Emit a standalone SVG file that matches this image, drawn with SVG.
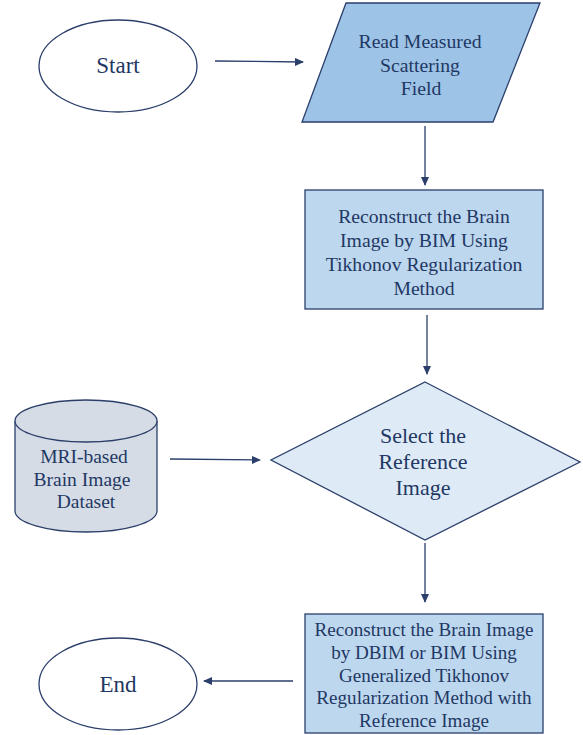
<svg xmlns="http://www.w3.org/2000/svg" width="583" height="735" viewBox="0 0 583 735">
<style>
.sh{stroke:#2b3f6a;stroke-width:1.3}
.t{font-family:"Liberation Serif","Times New Roman",serif;fill:#1f3864;text-anchor:middle}
.c{stroke:#2b3f6a;stroke-width:1.3;fill:none;marker-end:url(#ah)}
</style>
<defs>
<marker id="ah" markerWidth="10" markerHeight="8" refX="8" refY="4" orient="auto" markerUnits="userSpaceOnUse">
<path d="M0,0 L9,4 L0,8 Z" fill="#2b3f6a"/>
</marker>
</defs>
<rect width="583" height="735" fill="#fff"/>
<g id="start">
<ellipse class="sh" cx="118" cy="66" rx="79" ry="46" fill="#fff"/>
<text class="t" x="118" y="73" font-size="23">Start</text>
</g>
<g id="read">
<polygon class="sh" points="346,3 540,3 493,122 302,122" fill="#9dc3e6"/>
<text class="t" font-size="19.7"><tspan x="420" y="48">Read Measured</tspan><tspan x="420" y="72">Scattering</tspan><tspan x="421" y="95">Field</tspan></text>
</g>
<g id="bim">
<rect class="sh" x="305" y="190" width="238" height="119" fill="#bdd7ee"/>
<text class="t" font-size="19.7"><tspan x="424" y="223">Reconstruct the Brain</tspan><tspan x="424" y="247">Image by BIM Using</tspan><tspan x="424" y="271">Tikhonov Regularization</tspan><tspan x="424" y="295">Method</tspan></text>
</g>
<g id="select">
<polygon class="sh" points="425,382 580,462 425,540 271,460" fill="#deebf7"/>
<text class="t" font-size="22"><tspan x="423" y="443">Select the</tspan><tspan x="423" y="469">Reference</tspan><tspan x="423" y="495">Image</tspan></text>
</g>
<g id="dataset">
<path class="sh" d="M15,421 L15,511 A71,21 0 0 0 157,511 L157,421" fill="#d6dce5"/>
<ellipse class="sh" cx="86" cy="421" rx="71" ry="21" fill="#d6dce5"/>
<text class="t" font-size="19.5"><tspan x="84" y="463">MRI-based</tspan><tspan x="82" y="486">Brain Image</tspan><tspan x="86" y="508">Dataset</tspan></text>
</g>
<g id="dbim">
<rect class="sh" x="305" y="614" width="238" height="119" fill="#bdd7ee"/>
<text class="t" font-size="19.1"><tspan x="424" y="636">Reconstruct the Brain Image</tspan><tspan x="424" y="659">by DBIM or BIM Using</tspan><tspan x="424" y="682">Generalized Tikhonov</tspan><tspan x="424" y="704">Regularization Method with</tspan><tspan x="424" y="727">Reference Image</tspan></text>
</g>
<g id="end">
<ellipse class="sh" cx="118" cy="684" rx="79" ry="46" fill="#fff"/>
<text class="t" x="118" y="692" font-size="23">End</text>
</g>
<g id="connectors">
<line class="c" x1="215" y1="61" x2="303" y2="62"/>
<line class="c" x1="425" y1="126" x2="425" y2="185"/>
<line class="c" x1="427" y1="315" x2="427" y2="374"/>
<line class="c" x1="170" y1="459" x2="260" y2="460"/>
<line class="c" x1="425" y1="543" x2="425" y2="602"/>
<line class="c" x1="293" y1="681" x2="204" y2="681"/>
</g>
</svg>
